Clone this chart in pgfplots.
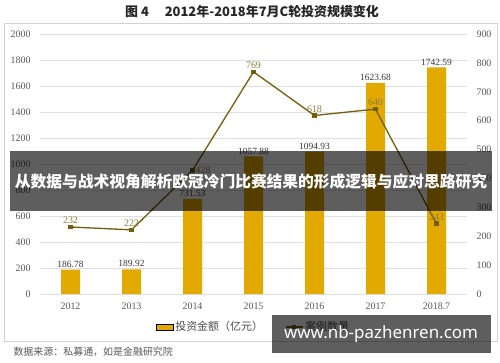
\documentclass[border=0pt]{standalone}
\usepackage{pgfplots}
\pgfplotsset{compat=1.18}
\usepackage{fontspec}
\setmainfont{Liberation Serif}
\newfontfamily\cjk{Noto Sans CJK SC}
\newfontfamily\wm{Noto Sans}
\definecolor{gold}{HTML}{E2A900}
\definecolor{olivel}{HTML}{745D0C}
\definecolor{lbl}{HTML}{8E7C3A}
\definecolor{tickc}{HTML}{595959}
\begin{document}
\begin{tikzpicture}
\begin{scope}[x=1bp,y=1bp]
\useasboundingbox (0,0) rectangle (500,362);
\fill[white] (0,0) rectangle (500,362);
\draw[gray!35, line width=0.8bp] (4,21) rectangle (497,339);
\node[text=black!85] at (252,350) {\cjk\bfseries\fontsize{13}{15}\selectfont 图 4\quad\ 2012年-2018年7月C轮投资规模变化};
\node[anchor=west, text=tickc] at (10,10) {\cjk\fontsize{10}{12}\selectfont 数据来源：私募通，如是金融研究院};
\end{scope}

\begin{axis}[at={(40bp,68bp)}, anchor=south west, scale only axis,
  width=427bp, height=260bp,
  xmin=-0.5, xmax=6.5, ymin=0, ymax=2000,
  ytick={0,200,...,2000},
  xtick={0,...,6},
  xticklabels={2012,2013,2014,2015,2016,2017,2018.7},
  axis line style={draw=none},
  major tick length=0,
  ymajorgrids, grid style={gray!25, line width=0.7bp},
  tick label style={font=\fontsize{10}{12}\selectfont, text=tickc},
  yticklabel style={xshift=-6bp},
  xticklabel style={yshift=-5bp},
  /pgf/number format/assume math mode=true,
  /pgf/number format/1000 sep={},
  clip=false]
\addplot[ybar, bar width=19bp, fill=gold, draw=none,
  nodes near coords,
  nodes near coords style={font=\fontsize{9.5}{11}\selectfont, text=black!78, inner sep=2bp,
    /pgf/number format/.cd, fixed, fixed zerofill, precision=2, 1000 sep={}, assume math mode=true}]
  coordinates {(0,186.78) (1,189.92) (2,731.53) (3,1057.88) (4,1094.93) (5,1623.68) (6,1742.59)};
\end{axis}

\begin{axis}[at={(40bp,68bp)}, anchor=south west, scale only axis,
  width=427bp, height=260bp,
  xmin=-0.5, xmax=6.5, ymin=0, ymax=900,
  ytick={0,100,...,900},
  axis y line*=right, axis x line=none,
  axis line style={draw=none},
  major tick length=0,
  tick label style={font=\fontsize{10}{12}\selectfont, text=tickc},
  yticklabel style={xshift=6bp},
  /pgf/number format/assume math mode=true,
  clip=false,
  legend style={at={(0.5,-0.127)}, anchor=center, draw=none, fill=none,
    legend columns=2, font=\cjk\fontsize{11}{13}\selectfont, text=black!70,
    /tikz/every even column/.append style={column sep=20bp}}]
\addlegendimage{area legend, fill=gold, draw=none}
\addlegendentry{投资金额（亿元）}
\addplot[olivel, line width=1.3bp, mark=square*, mark size=1.7bp,
  mark options={fill=olivel},
  visualization depends on={value \thisrow{a}\as\anch},
  nodes near coords,
  every node near coord/.append style={anchor=\anch, font=\fontsize{10}{12}\selectfont, text=lbl, inner sep=2.5bp}]
  table[x=x, y=y] {
x y a
0 232 south
1 222 south
2 428 west
3 769 south
4 618 south
5 640 south west
6 243 south west
};
\addlegendentry{案例数量}
\end{axis}

\begin{scope}[x=1bp,y=1bp]
\fill[black, opacity=0.63] (10,151) rectangle (492,211);
\node[text=white] at (251,181) {\cjk\bfseries\fontsize{15.8}{18}\selectfont 从数据与战术视角解析欧冠冷门比赛结果的形成逻辑与应对思路研究};
\fill[black, opacity=0.63] (272,9) rectangle (491,47);
\node[text=white] at (381,28) {\wm\bfseries\fontsize{17}{20}\selectfont www.nb-pazhenren.com};
\end{scope}
\end{tikzpicture}
\end{document}
